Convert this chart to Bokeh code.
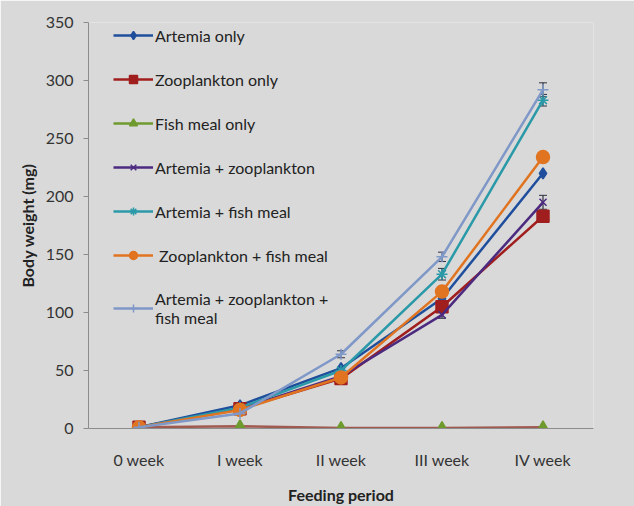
from bokeh.plotting import figure
from bokeh.models import Range1d, Legend, LegendItem, Whisker, ColumnDataSource, FixedTicker
from bokeh.embed import file_html
from bokeh.resources import INLINE

weeks = ["0 week", "I week", "II week", "III week", "IV week"]
week_pos = [0, 1, 2, 3, 4]

names = ["Artemia only", "Zooplankton only", "Fish meal only", "Artemia + zooplankton",
         "Artemia + fish meal", " Zooplankton + fish meal", "Artemia + zooplankton +\nfish meal"]
artemia = [1, 20, 52, 112, 220]
zoo = [1, 17, 43, 105, 183]
fish = [1, 2, 0.5, 0.5, 1]
art_zoo = [1, 17, 45, 98, 195]
art_fish = [1, 18, 50, 133, 283]
zoo_fish = [1, 16, 44, 118, 234]
all3 = [1, 13, 64, 148, 292]
errs = {
    3: [0, 1, 2, 3, 6],
    4: [0, 1, 2, 5, 5],
    6: [0, 1, 3, 4, 6],
}
series = [artemia, zoo, fish, art_zoo, art_fish, zoo_fish, all3]
colors = ["#1f4f9c", "#a01e1e", "#6f9a2e", "#4b2a7f", "#2a99a8", "#e07420", "#7f98c8"]
line_colors = ["#1f4f9c", "#a01e1e", "#a05a50", "#4b2a7f", "#2a99a8", "#e07420", "#7f98c8"]
markers = ["diamond", "square", "triangle", "x", "asterisk", "circle", "cross"]
sizes = [11, 12, 11, 10, 11, 13, 11]

FONT = "Lato"
BG = "#d9d9d9"
p = figure(width=634, height=506, output_backend="svg", toolbar_location=None,
           x_range=Range1d(-0.5, 4.5), y_range=Range1d(0, 350),
           background_fill_color=BG, border_fill_color=BG,
           min_border_left=88, min_border_right=41, min_border_top=22, min_border_bottom=78)
p.grid.visible = False
p.outline_line_color = None

items = []
for i, (vals, c, lc, m, s) in enumerate(zip(series, colors, line_colors, markers, sizes)):
    src = ColumnDataSource(dict(x=week_pos, y=vals))
    ln = p.line("x", "y", source=src, line_color=lc, line_width=2.5)
    sc = p.scatter("x", "y", source=src, marker=m, size=s, fill_color=c, line_color=c, line_width=1.5)
    if i == 2:
        leg_ln = p.line([-10, -9], [-10, -10], line_color=c, line_width=2.5)
        items.append(LegendItem(label=names[i], renderers=[leg_ln, sc]))
    else:
        items.append(LegendItem(label=names[i], renderers=[ln, sc]))

for i, e in errs.items():
    vals = series[i]
    src = ColumnDataSource(dict(x=week_pos, lo=[v - d for v, d in zip(vals, e)], hi=[v + d for v, d in zip(vals, e)]))
    w = Whisker(base="x", lower="lo", upper="hi", source=src, line_color="#303040", line_width=1.2)
    w.upper_head.size = 8
    w.lower_head.size = 8
    w.upper_head.line_color = "#303040"
    w.lower_head.line_color = "#303040"
    p.add_layout(w)

legend = Legend(items=items, location=(25, 101), background_fill_alpha=0, border_line_color=None,
                padding=2, margin=0, spacing=24, label_height=20, glyph_height=20, glyph_width=40,
                label_standoff=2, label_text_font=FONT, label_text_font_size="16px",
                label_text_color="#222222", label_text_line_height=1.15)
p.add_layout(legend)

p.xaxis.ticker = FixedTicker(ticks=week_pos)
p.xaxis.major_label_overrides = {i: w for i, w in enumerate(weeks)}
p.yaxis.ticker = FixedTicker(ticks=[0, 50, 100, 150, 200, 250, 300, 350])
for ax in (p.xaxis, p.yaxis):
    ax.axis_line_color = "#8c8c8c"
    ax.major_label_text_font = FONT
    ax.major_label_text_font_size = "16px"
    ax.major_label_text_color = "#333333"
    ax.minor_tick_line_color = None
    ax.axis_label_text_font = FONT
    ax.axis_label_text_font_size = "16px"
    ax.axis_label_text_font_style = "bold"
    ax.axis_label_text_color = "#222222"
p.xaxis.major_tick_line_color = None
p.xaxis.major_tick_out = 0
p.xaxis.major_tick_in = 0
p.xaxis.major_label_standoff = 21
p.xaxis.axis_label = "Feeding period"
p.xaxis.axis_label_standoff = 13
p.yaxis.major_tick_line_color = "#8c8c8c"
p.yaxis.major_tick_out = 5
p.yaxis.major_tick_in = 0
p.yaxis.major_label_standoff = 10
p.yaxis.axis_label = "Body weight (mg)"
p.yaxis.axis_label_standoff = 6

open("out.html", "w").write(file_html(p, INLINE))
